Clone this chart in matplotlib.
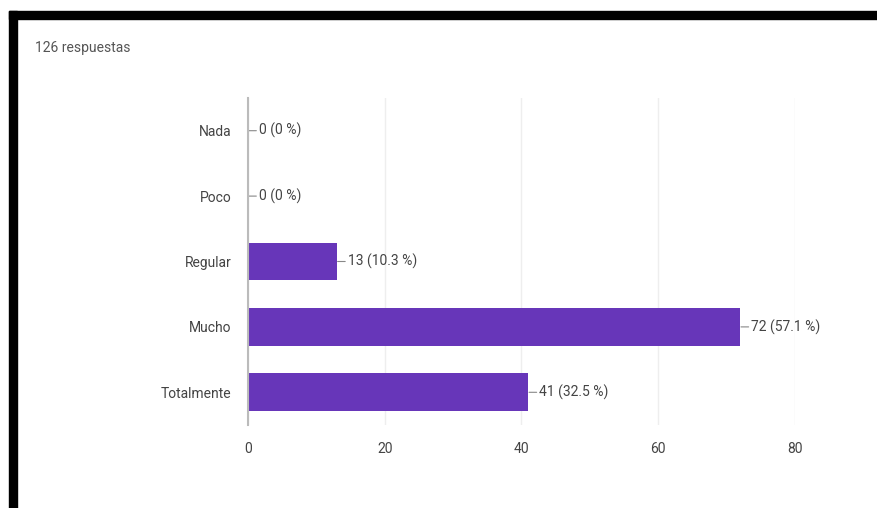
import matplotlib.pyplot as plt
from matplotlib.patches import Rectangle

plt.rcParams['font.family'] = ['Liberation Sans Narrow', 'Roboto', 'DejaVu Sans']

categories = ["Nada", "Poco", "Regular", "Mucho", "Totalmente"]
counts = [0, 0, 13, 72, 41]
percents = ["0 %", "0 %", "10.3 %", "57.1 %", "32.5 %"]
xticks = [0, 20, 40, 60, 80]
total_label = "126 respuestas"

BAR_COLOR = "#6736b9"
TEXT_COLOR = "#444444"
GRID_COLOR = "#eeeeee"

fig = plt.figure(figsize=(8.78, 5.08), dpi=100)
W, H = 878, 508

# axes box in pixel coordinates
left, right, top, bottom = 248, 795, 98, 425
ax = fig.add_axes([left / W, 1 - bottom / H, (right - left) / W, (bottom - top) / H])

ypos = list(range(len(categories)))
ax.barh(ypos, counts, height=0.58, color=BAR_COLOR, zorder=3)

ax.set_xlim(0, xticks[-1])
ax.set_ylim(len(categories) - 0.5, -0.5)
ax.set_yticks(ypos)
ax.set_yticklabels(categories, fontsize=10, color=TEXT_COLOR)
ax.set_xticks(xticks)
ax.set_xticklabels([str(t) for t in xticks], fontsize=10, color=TEXT_COLOR)
ax.tick_params(axis='y', length=0, pad=12)
ax.tick_params(axis='x', length=0, pad=12)

ax.grid(axis='x', color=GRID_COLOR, lw=1, zorder=0)
for s in ["top", "right", "bottom"]:
    ax.spines[s].set_visible(False)
ax.spines["left"].set_color("#bbbbbb")
ax.spines["left"].set_linewidth(1.5)
ax.spines["left"].set_zorder(4)

# value labels with a short leader line
for y, c, p in zip(ypos, counts, percents):
    ax.annotate(f"{c} ({p})", xy=(c, y), xytext=(8, 0), textcoords="offset points",
                va="center", ha="left", fontsize=10, color=TEXT_COLOR,
                arrowprops=dict(arrowstyle="-", color="#888888", lw=0.8,
                                shrinkA=0, shrinkB=0.5))

fig.text(35 / W, 1 - 48 / H, total_label, fontsize=10, color="#555555",
         va="center", ha="left")

# black frame on top and left edge
fig.add_artist(Rectangle((9 / W, 1 - 19 / H), 1, 8 / H, transform=fig.transFigure,
                         color="black", zorder=10))
fig.add_artist(Rectangle((9 / W, 0), 8 / W, 1 - 11 / H, transform=fig.transFigure,
                         color="black", zorder=10))

fig.savefig("out.png", dpi=100)
